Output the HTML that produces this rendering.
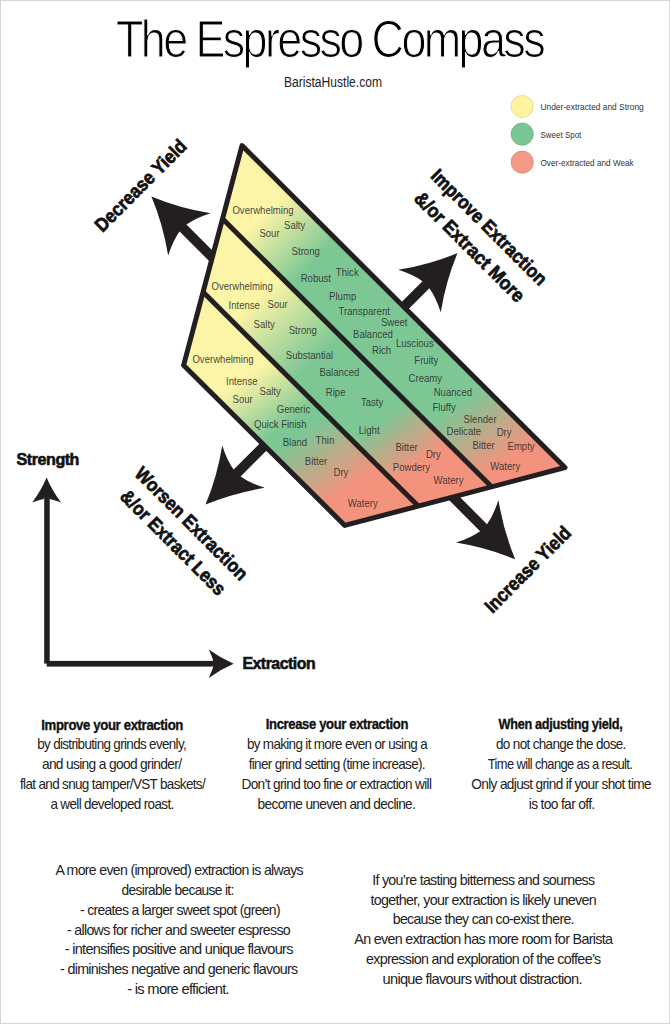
<!DOCTYPE html>
<html><head><meta charset="utf-8"><title>The Espresso Compass</title>
<style>html,body{margin:0;padding:0;background:#fff;}svg{display:block;}</style></head>
<body><svg width="670" height="1024" viewBox="0 0 670 1024" font-family="'Liberation Sans', sans-serif">
<rect x="0.5" y="0.5" width="669" height="1023" fill="#fff" stroke="#d6d6d6" stroke-width="1"/>
<text x="116.00" y="57.00" font-size="51.5" textLength="427.00" lengthAdjust="spacingAndGlyphs" fill="#000" stroke="#fff" stroke-width="1.1" letter-spacing="-3">The Espresso Compass</text>
<text x="284.00" y="86.70" font-size="14" textLength="98.00" lengthAdjust="spacingAndGlyphs" fill="#222" >BaristaHustle.com</text>
<circle cx="522.2" cy="106.5" r="11.1" fill="#fdf3a3" stroke="#e6d77a" stroke-width="0.8"/>
<text x="540.50" y="110.00" font-size="9.3" textLength="103.20" lengthAdjust="spacingAndGlyphs" fill="#333" >Under-extracted and Strong</text>
<circle cx="522.2" cy="134.1" r="11.1" fill="#7cc594" stroke="#6ab282" stroke-width="0.8"/>
<text x="540.50" y="137.80" font-size="9.3" textLength="40.80" lengthAdjust="spacingAndGlyphs" fill="#333" >Sweet Spot</text>
<circle cx="522.2" cy="162.2" r="11.1" fill="#f39a86" stroke="#de8874" stroke-width="0.8"/>
<text x="540.50" y="166.00" font-size="9.3" textLength="93.20" lengthAdjust="spacingAndGlyphs" fill="#333" >Over-extracted and Weak</text>
<path transform="translate(151.4,196.4) rotate(45)" d="M0,0 Q28,-11.5 53.7,-30.0 Q46.5,-16 44.7,-4.9 L95,-4.9 L95,4.9 L44.7,4.9 Q46.5,16 53.7,30.0 Q28,11.5 0,0 Z" fill="#231f20"/>
<path transform="translate(457.5,253.1) rotate(135)" d="M0,0 Q28,-11.5 53.7,-30.0 Q46.5,-16 44.7,-4.9 L85,-4.9 L85,4.9 L44.7,4.9 Q46.5,16 53.7,30.0 Q28,11.5 0,0 Z" fill="#231f20"/>
<path transform="translate(205.5,504.6) rotate(-45)" d="M0,0 Q28,-11.5 53.7,-30.0 Q46.5,-16 44.7,-4.9 L92,-4.9 L92,4.9 L44.7,4.9 Q46.5,16 53.7,30.0 Q28,11.5 0,0 Z" fill="#231f20"/>
<path transform="translate(515.2,559.3) rotate(-135)" d="M0,0 Q28,-11.5 53.7,-30.0 Q46.5,-16 44.7,-4.9 L100,-4.9 L100,4.9 L44.7,4.9 Q46.5,16 53.7,30.0 Q28,11.5 0,0 Z" fill="#231f20"/>
<defs><linearGradient id="y0" gradientUnits="userSpaceOnUse" x1="240.00" y1="240.00" x2="287.50" y2="287.50"><stop offset="0.0000" stop-color="#fcf4a6" stop-opacity="1"/><stop offset="1.0000" stop-color="#7dc795" stop-opacity="1"/></linearGradient><linearGradient id="r0" gradientUnits="userSpaceOnUse" x1="339.74" y1="485.20" x2="382.97" y2="546.94"><stop offset="0.0000" stop-color="#f3937e" stop-opacity="0"/><stop offset="1.0000" stop-color="#f3937e" stop-opacity="1"/></linearGradient><linearGradient id="y1" gradientUnits="userSpaceOnUse" x1="263.50" y1="292.65" x2="320.20" y2="355.62"><stop offset="0.0000" stop-color="#fcf4a6" stop-opacity="1"/><stop offset="1.0000" stop-color="#7dc795" stop-opacity="1"/></linearGradient><linearGradient id="r1" gradientUnits="userSpaceOnUse" x1="322.12" y1="460.03" x2="355.71" y2="508.01"><stop offset="0.0000" stop-color="#f3937e" stop-opacity="0"/><stop offset="1.0000" stop-color="#f3937e" stop-opacity="1"/></linearGradient><linearGradient id="y2" gradientUnits="userSpaceOnUse" x1="258.20" y1="368.75" x2="294.15" y2="420.09"><stop offset="0.0000" stop-color="#fcf4a6" stop-opacity="1"/><stop offset="1.0000" stop-color="#7dc795" stop-opacity="1"/></linearGradient><linearGradient id="r2" gradientUnits="userSpaceOnUse" x1="302.80" y1="432.44" x2="343.73" y2="490.89"><stop offset="0.0000" stop-color="#f3937e" stop-opacity="0"/><stop offset="1.0000" stop-color="#f3937e" stop-opacity="1"/></linearGradient></defs>
<polygon points="242.00,145.60 565.00,467.50 491.60,486.80 222.53,218.83" fill="url(#y0)"/>
<polygon points="242.00,145.60 565.00,467.50 491.60,486.80 222.53,218.83" fill="url(#r0)"/>
<polygon points="222.53,218.83 491.60,486.80 418.20,506.10 203.07,292.07" fill="url(#y1)"/>
<polygon points="222.53,218.83 491.60,486.80 418.20,506.10 203.07,292.07" fill="url(#r1)"/>
<polygon points="203.07,292.07 418.20,506.10 344.80,525.40 183.60,365.30" fill="url(#y2)"/>
<polygon points="203.07,292.07 418.20,506.10 344.80,525.40 183.60,365.30" fill="url(#r2)"/>
<text x="232.40" y="213.50" font-size="10.3" textLength="61.22" lengthAdjust="spacingAndGlyphs" fill="#2e2e2e" fill-opacity="0.9">Overwhelming</text>
<text x="284.00" y="229.00" font-size="10.3" textLength="21.30" lengthAdjust="spacingAndGlyphs" fill="#2e2e2e" fill-opacity="0.9">Salty</text>
<text x="259.40" y="236.70" font-size="10.3" textLength="20.23" lengthAdjust="spacingAndGlyphs" fill="#2e2e2e" fill-opacity="0.9">Sour</text>
<text x="291.60" y="255.30" font-size="10.3" textLength="28.22" lengthAdjust="spacingAndGlyphs" fill="#2e2e2e" fill-opacity="0.9">Strong</text>
<text x="335.80" y="275.60" font-size="10.3" textLength="22.89" lengthAdjust="spacingAndGlyphs" fill="#2e2e2e" fill-opacity="0.9">Thick</text>
<text x="300.70" y="281.50" font-size="10.3" textLength="30.35" lengthAdjust="spacingAndGlyphs" fill="#2e2e2e" fill-opacity="0.9">Robust</text>
<text x="329.10" y="299.50" font-size="10.3" textLength="27.15" lengthAdjust="spacingAndGlyphs" fill="#2e2e2e" fill-opacity="0.9">Plump</text>
<text x="338.60" y="314.50" font-size="10.3" textLength="51.29" lengthAdjust="spacingAndGlyphs" fill="#2e2e2e" fill-opacity="0.9">Transparent</text>
<text x="380.90" y="326.20" font-size="10.3" textLength="26.62" lengthAdjust="spacingAndGlyphs" fill="#2e2e2e" fill-opacity="0.9">Sweet</text>
<text x="353.00" y="338.10" font-size="10.3" textLength="39.95" lengthAdjust="spacingAndGlyphs" fill="#2e2e2e" fill-opacity="0.9">Balanced</text>
<text x="395.90" y="347.20" font-size="10.3" textLength="37.81" lengthAdjust="spacingAndGlyphs" fill="#2e2e2e" fill-opacity="0.9">Luscious</text>
<text x="372.00" y="354.40" font-size="10.3" textLength="19.16" lengthAdjust="spacingAndGlyphs" fill="#2e2e2e" fill-opacity="0.9">Rich</text>
<text x="414.30" y="363.90" font-size="10.3" textLength="23.95" lengthAdjust="spacingAndGlyphs" fill="#2e2e2e" fill-opacity="0.9">Fruity</text>
<text x="408.60" y="381.80" font-size="10.3" textLength="33.53" lengthAdjust="spacingAndGlyphs" fill="#2e2e2e" fill-opacity="0.9">Creamy</text>
<text x="433.70" y="395.50" font-size="10.3" textLength="38.35" lengthAdjust="spacingAndGlyphs" fill="#2e2e2e" fill-opacity="0.9">Nuanced</text>
<text x="432.50" y="410.50" font-size="10.3" textLength="23.25" lengthAdjust="spacingAndGlyphs" fill="#2e2e2e" fill-opacity="0.9">Fluffy</text>
<text x="463.60" y="422.90" font-size="10.3" textLength="33.02" lengthAdjust="spacingAndGlyphs" fill="#2e2e2e" fill-opacity="0.9">Slender</text>
<text x="446.60" y="434.80" font-size="10.3" textLength="34.61" lengthAdjust="spacingAndGlyphs" fill="#2e2e2e" fill-opacity="0.9">Delicate</text>
<text x="496.70" y="436.10" font-size="10.3" textLength="14.90" lengthAdjust="spacingAndGlyphs" fill="#2e2e2e" fill-opacity="0.9">Dry</text>
<text x="472.40" y="448.70" font-size="10.3" textLength="22.36" lengthAdjust="spacingAndGlyphs" fill="#2e2e2e" fill-opacity="0.9">Bitter</text>
<text x="507.50" y="449.90" font-size="10.3" textLength="27.15" lengthAdjust="spacingAndGlyphs" fill="#2e2e2e" fill-opacity="0.9">Empty</text>
<text x="490.30" y="469.50" font-size="10.3" textLength="29.98" lengthAdjust="spacingAndGlyphs" fill="#2e2e2e" fill-opacity="0.9">Watery</text>
<text x="211.50" y="289.90" font-size="10.3" textLength="61.22" lengthAdjust="spacingAndGlyphs" fill="#2e2e2e" fill-opacity="0.9">Overwhelming</text>
<text x="228.50" y="309.30" font-size="10.3" textLength="31.42" lengthAdjust="spacingAndGlyphs" fill="#2e2e2e" fill-opacity="0.9">Intense</text>
<text x="267.60" y="308.10" font-size="10.3" textLength="20.23" lengthAdjust="spacingAndGlyphs" fill="#2e2e2e" fill-opacity="0.9">Sour</text>
<text x="253.60" y="328.40" font-size="10.3" textLength="21.30" lengthAdjust="spacingAndGlyphs" fill="#2e2e2e" fill-opacity="0.9">Salty</text>
<text x="288.70" y="333.60" font-size="10.3" textLength="28.22" lengthAdjust="spacingAndGlyphs" fill="#2e2e2e" fill-opacity="0.9">Strong</text>
<text x="285.80" y="358.70" font-size="10.3" textLength="47.40" lengthAdjust="spacingAndGlyphs" fill="#2e2e2e" fill-opacity="0.9">Substantial</text>
<text x="319.40" y="376.40" font-size="10.3" textLength="39.95" lengthAdjust="spacingAndGlyphs" fill="#2e2e2e" fill-opacity="0.9">Balanced</text>
<text x="325.80" y="396.20" font-size="10.3" textLength="19.70" lengthAdjust="spacingAndGlyphs" fill="#2e2e2e" fill-opacity="0.9">Ripe</text>
<text x="360.90" y="406.20" font-size="10.3" textLength="22.36" lengthAdjust="spacingAndGlyphs" fill="#2e2e2e" fill-opacity="0.9">Tasty</text>
<text x="358.80" y="433.70" font-size="10.3" textLength="20.77" lengthAdjust="spacingAndGlyphs" fill="#2e2e2e" fill-opacity="0.9">Light</text>
<text x="395.40" y="450.60" font-size="10.3" textLength="22.36" lengthAdjust="spacingAndGlyphs" fill="#2e2e2e" fill-opacity="0.9">Bitter</text>
<text x="425.90" y="458.30" font-size="10.3" textLength="14.90" lengthAdjust="spacingAndGlyphs" fill="#2e2e2e" fill-opacity="0.9">Dry</text>
<text x="392.80" y="470.90" font-size="10.3" textLength="37.27" lengthAdjust="spacingAndGlyphs" fill="#2e2e2e" fill-opacity="0.9">Powdery</text>
<text x="433.60" y="484.10" font-size="10.3" textLength="29.98" lengthAdjust="spacingAndGlyphs" fill="#2e2e2e" fill-opacity="0.9">Watery</text>
<text x="192.40" y="363.00" font-size="10.3" textLength="61.22" lengthAdjust="spacingAndGlyphs" fill="#2e2e2e" fill-opacity="0.9">Overwhelming</text>
<text x="226.10" y="385.40" font-size="10.3" textLength="31.42" lengthAdjust="spacingAndGlyphs" fill="#2e2e2e" fill-opacity="0.9">Intense</text>
<text x="259.50" y="395.40" font-size="10.3" textLength="21.30" lengthAdjust="spacingAndGlyphs" fill="#2e2e2e" fill-opacity="0.9">Salty</text>
<text x="232.50" y="403.30" font-size="10.3" textLength="20.23" lengthAdjust="spacingAndGlyphs" fill="#2e2e2e" fill-opacity="0.9">Sour</text>
<text x="276.70" y="412.60" font-size="10.3" textLength="33.54" lengthAdjust="spacingAndGlyphs" fill="#2e2e2e" fill-opacity="0.9">Generic</text>
<text x="254.00" y="428.40" font-size="10.3" textLength="52.70" lengthAdjust="spacingAndGlyphs" fill="#2e2e2e" fill-opacity="0.9">Quick Finish</text>
<text x="282.70" y="445.60" font-size="10.3" textLength="24.50" lengthAdjust="spacingAndGlyphs" fill="#2e2e2e" fill-opacity="0.9">Bland</text>
<text x="315.60" y="444.20" font-size="10.3" textLength="18.63" lengthAdjust="spacingAndGlyphs" fill="#2e2e2e" fill-opacity="0.9">Thin</text>
<text x="304.80" y="464.80" font-size="10.3" textLength="22.36" lengthAdjust="spacingAndGlyphs" fill="#2e2e2e" fill-opacity="0.9">Bitter</text>
<text x="333.50" y="475.70" font-size="10.3" textLength="14.90" lengthAdjust="spacingAndGlyphs" fill="#2e2e2e" fill-opacity="0.9">Dry</text>
<text x="347.80" y="506.50" font-size="10.3" textLength="29.98" lengthAdjust="spacingAndGlyphs" fill="#2e2e2e" fill-opacity="0.9">Watery</text>
<polygon points="242.00,145.60 565.00,467.50 344.80,525.40 183.60,365.30" fill="none" stroke="#231f20" stroke-width="5.0" stroke-linejoin="round"/>
<line x1="222.53" y1="218.83" x2="491.60" y2="486.80" stroke="#231f20" stroke-width="5.0"/>
<line x1="203.07" y1="292.07" x2="418.20" y2="506.10" stroke="#231f20" stroke-width="5.0"/>
<text transform="translate(102.4,233) rotate(-45)" font-size="19.2" font-weight="bold" textLength="121" lengthAdjust="spacingAndGlyphs" fill="#111" stroke="#111" stroke-width="0.7">Decrease Yield</text>
<text transform="translate(492.4,614.0) rotate(-45)" font-size="19.2" font-weight="bold" textLength="113" lengthAdjust="spacingAndGlyphs" fill="#111" stroke="#111" stroke-width="0.7">Increase Yield</text>
<text transform="translate(429.7,177.1) rotate(45)" font-size="19.2" font-weight="bold" textLength="155" lengthAdjust="spacingAndGlyphs" fill="#111" stroke="#111" stroke-width="0.7">Improve Extraction</text>
<text transform="translate(413,199.4) rotate(45)" font-size="19.2" font-weight="bold" textLength="147" lengthAdjust="spacingAndGlyphs" fill="#111" stroke="#111" stroke-width="0.7">&amp;/or Extract More</text>
<text transform="translate(133.5,474.8) rotate(45)" font-size="19.2" font-weight="bold" textLength="151" lengthAdjust="spacingAndGlyphs" fill="#111" stroke="#111" stroke-width="0.7">Worsen Extraction</text>
<text transform="translate(119.0,497.6) rotate(45)" font-size="19.2" font-weight="bold" textLength="140" lengthAdjust="spacingAndGlyphs" fill="#111" stroke="#111" stroke-width="0.7">&amp;/or Extract Less</text>
<rect x="44.2" y="495" width="5.5" height="168.6" fill="#231f20"/>
<rect x="46.7" y="660.9" width="170" height="5.7" fill="#231f20"/>
<path transform="translate(46.6,477.6) rotate(90)" d="M0,0 Q13,-5.5 25,-14.4 Q22,-7 21.4,-2.75 L20,-2.75 L20,2.75 L21.4,2.75 Q22,7 25,14.4 Q13,5.5 0,0 Z" fill="#231f20"/>
<path transform="translate(233.7,663.75) rotate(180)" d="M0,0 Q13,-5.5 25,-14.2 Q21.5,-7 20.5,-2.85 L20,-2.85 L20,2.85 L20.5,2.85 Q21.5,7 25,14.2 Q13,5.5 0,0 Z" fill="#231f20"/>
<text x="16.60" y="464.70" font-size="16.7" font-weight="bold" textLength="62.40" lengthAdjust="spacingAndGlyphs" fill="#111" stroke="#111" stroke-width="0.6" letter-spacing="-0.5">Strength</text>
<text x="242.40" y="668.90" font-size="16.7" font-weight="bold" textLength="72.80" lengthAdjust="spacingAndGlyphs" fill="#111" stroke="#111" stroke-width="0.6" letter-spacing="-0.5">Extraction</text>
<text x="41.30" y="729.50" font-size="14.8" font-weight="bold" textLength="141.70" lengthAdjust="spacingAndGlyphs" fill="#111" stroke="#111" stroke-width="0.35" letter-spacing="-0.4">Improve your extraction</text>
<text x="37.20" y="749.20" font-size="14.4" textLength="148.90" lengthAdjust="spacingAndGlyphs" fill="#222" letter-spacing="-0.7">by distributing grinds evenly,</text>
<text x="41.90" y="769.10" font-size="14.4" textLength="139.50" lengthAdjust="spacingAndGlyphs" fill="#222" letter-spacing="-0.7">and using a good grinder/</text>
<text x="20.00" y="789.00" font-size="14.4" textLength="185.00" lengthAdjust="spacingAndGlyphs" fill="#222" letter-spacing="-0.7">flat and snug tamper/VST baskets/</text>
<text x="50.40" y="809.10" font-size="14.4" textLength="123.20" lengthAdjust="spacingAndGlyphs" fill="#222" letter-spacing="-0.7">a well developed roast.</text>
<text x="265.80" y="729.40" font-size="14.8" font-weight="bold" textLength="142.20" lengthAdjust="spacingAndGlyphs" fill="#111" stroke="#111" stroke-width="0.35" letter-spacing="-0.4">Increase your extraction</text>
<text x="246.90" y="749.20" font-size="14.4" textLength="180.10" lengthAdjust="spacingAndGlyphs" fill="#222" letter-spacing="-0.7">by making it more even or using a</text>
<text x="248.70" y="769.10" font-size="14.4" textLength="176.20" lengthAdjust="spacingAndGlyphs" fill="#222" letter-spacing="-0.7">finer grind setting (time increase).</text>
<text x="241.50" y="789.10" font-size="14.4" textLength="189.80" lengthAdjust="spacingAndGlyphs" fill="#222" letter-spacing="-0.7">Don’t grind too fine or extraction will</text>
<text x="257.60" y="809.20" font-size="14.4" textLength="157.60" lengthAdjust="spacingAndGlyphs" fill="#222" letter-spacing="-0.7">become uneven and decline.</text>
<text x="498.60" y="728.80" font-size="14.8" font-weight="bold" textLength="123.80" lengthAdjust="spacingAndGlyphs" fill="#111" stroke="#111" stroke-width="0.35" letter-spacing="-0.4">When adjusting yield,</text>
<text x="496.00" y="749.20" font-size="14.4" textLength="129.70" lengthAdjust="spacingAndGlyphs" fill="#222" letter-spacing="-0.7">do not change the dose.</text>
<text x="487.80" y="769.10" font-size="14.4" textLength="144.50" lengthAdjust="spacingAndGlyphs" fill="#222" letter-spacing="-0.7">Time will change as a result.</text>
<text x="471.30" y="789.10" font-size="14.4" textLength="179.70" lengthAdjust="spacingAndGlyphs" fill="#222" letter-spacing="-0.7">Only adjust grind if your shot time</text>
<text x="528.80" y="809.20" font-size="14.4" textLength="65.70" lengthAdjust="spacingAndGlyphs" fill="#222" letter-spacing="-0.7">is too far off.</text>
<text x="55.40" y="875.40" font-size="14.4" textLength="247.60" lengthAdjust="spacingAndGlyphs" fill="#222" letter-spacing="-0.7">A more even (improved) extraction is always</text>
<text x="121.60" y="894.90" font-size="14.4" textLength="112.00" lengthAdjust="spacingAndGlyphs" fill="#222" letter-spacing="-0.7">desirable because it:</text>
<text x="80.00" y="914.80" font-size="14.4" textLength="199.90" lengthAdjust="spacingAndGlyphs" fill="#222" letter-spacing="-0.7">- creates a larger sweet spot (green)</text>
<text x="67.00" y="934.70" font-size="14.4" textLength="223.00" lengthAdjust="spacingAndGlyphs" fill="#222" letter-spacing="-0.7">- allows for richer and sweeter espresso</text>
<text x="64.70" y="954.30" font-size="14.4" textLength="228.10" lengthAdjust="spacingAndGlyphs" fill="#222" letter-spacing="-0.7">- intensifies positive and unique flavours</text>
<text x="60.10" y="974.15" font-size="14.4" textLength="237.40" lengthAdjust="spacingAndGlyphs" fill="#222" letter-spacing="-0.7">- diminishes negative and generic flavours</text>
<text x="127.20" y="994.00" font-size="14.4" textLength="101.80" lengthAdjust="spacingAndGlyphs" fill="#222" letter-spacing="-0.7">- is more efficient.</text>
<text x="372.20" y="884.80" font-size="14.4" textLength="222.20" lengthAdjust="spacingAndGlyphs" fill="#222" letter-spacing="-0.7">If you’re tasting bitterness and sourness</text>
<text x="370.40" y="904.60" font-size="14.4" textLength="225.70" lengthAdjust="spacingAndGlyphs" fill="#222" letter-spacing="-0.7">together, your extraction is likely uneven</text>
<text x="392.80" y="924.40" font-size="14.4" textLength="181.00" lengthAdjust="spacingAndGlyphs" fill="#222" letter-spacing="-0.7">because they can co-exist there.</text>
<text x="354.30" y="944.20" font-size="14.4" textLength="258.00" lengthAdjust="spacingAndGlyphs" fill="#222" letter-spacing="-0.7">An even extraction has more room for Barista</text>
<text x="366.00" y="964.10" font-size="14.4" textLength="234.60" lengthAdjust="spacingAndGlyphs" fill="#222" letter-spacing="-0.7">expression and exploration of the coffee’s</text>
<text x="382.50" y="983.90" font-size="14.4" textLength="199.30" lengthAdjust="spacingAndGlyphs" fill="#222" letter-spacing="-0.7">unique flavours without distraction.</text>
</svg></body></html>
